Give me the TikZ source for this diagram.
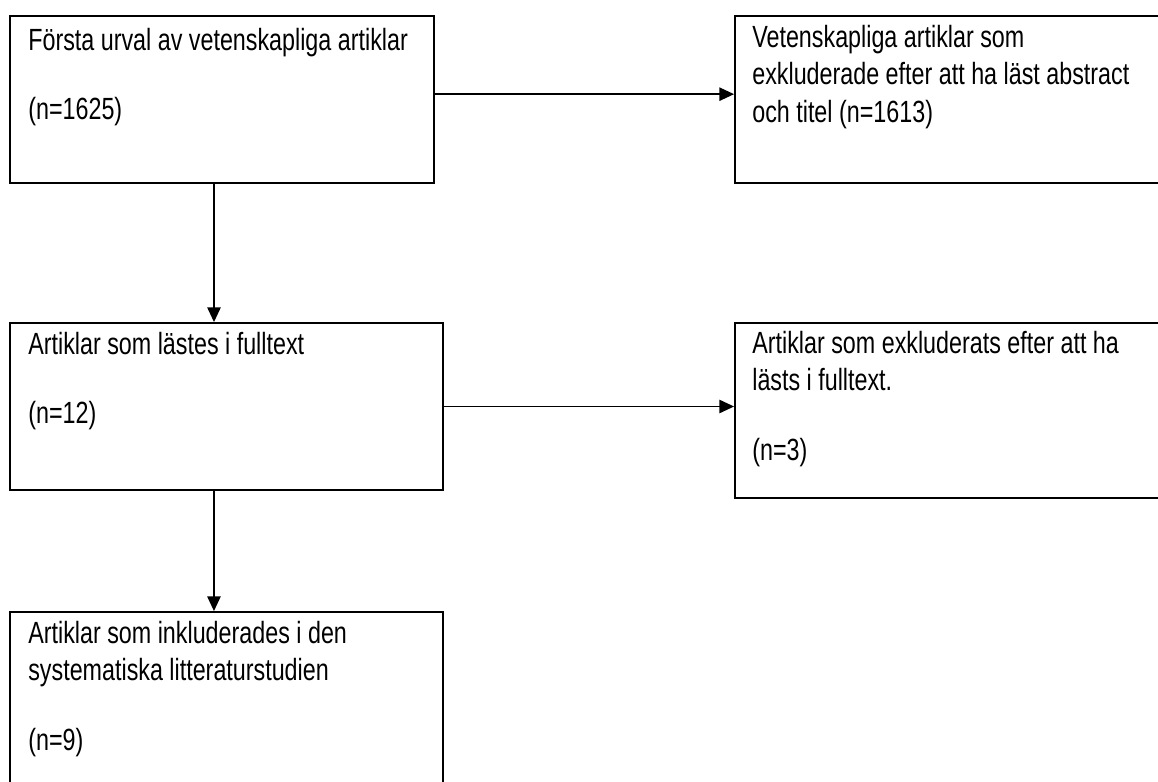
\documentclass[tikz,border=0pt]{standalone}
\usepackage{fontspec}
\setmainfont[FakeStretch=0.76]{Liberation Sans}
\usetikzlibrary{positioning,arrows.meta}
\tikzset{
    box/.style = {
        draw,
        shape=rectangle,
        line width=1.4pt,
        inner sep=0pt
    },
    txt/.style = {
        align=left,
        inner sep=0pt,
        anchor=north west,
        font=\fontsize{23}{28}\selectfont
    },
    arr/.style = {
        draw,
        line width=1.1pt,
        -{Triangle[length=11pt,width=10pt]}
    },
}
\begin{document}
\begin{tikzpicture}[x=0.75pt,y=-0.75pt]
    \useasboundingbox (0,0) rectangle (1158,782);

    \node[box, minimum width=318pt, minimum height=125.25pt] (first) at (222,99.5) {};
    \node[box, minimum width=322.5pt, minimum height=125.25pt] (excl1) at (950,99.5) {};
    \node[box, minimum width=324.75pt, minimum height=125.25pt] (fulltext) at (226.5,406.5) {};
    \node[box, minimum width=322.5pt, minimum height=131.25pt] (excl2) at (950,410.5) {};
    \node[box, minimum width=324.75pt, minimum height=141pt] (incl) at (226.5,706) {};

    \node[txt] (first-text) at ([shift={(19,13)}]first.north west)
        {Första urval av vetenskapliga artiklar\\[24pt] (n=1625)};
    \node[txt] (excl1-text) at ([shift={(18,10)}]excl1.north west)
        {Vetenskapliga artiklar som\\ exkluderade efter att ha läst abstract\\ och titel (n=1613)};
    \node[txt] (fulltext-text) at ([shift={(19,10)}]fulltext.north west)
        {Artiklar som lästes i fulltext\\[24pt] (n=12)};
    \node[txt] (excl2-text) at ([shift={(18,9)}]excl2.north west)
        {Artiklar som exkluderats efter att ha\\ lästs i fulltext.\\[24pt] (n=3)};
    \node[txt] (incl-text) at ([shift={(19,10)}]incl.north west)
        {Artiklar som inkluderades i den\\ systematiska litteraturstudien\\[24pt] (n=9)};

    \path[arr] ([yshift=4pt]first.east) -- ([yshift=4pt]first.east -| excl1.west);
    \path[arr] (fulltext.east) -- (fulltext.east -| excl2.west);
    \path[arr] ([xshift=-6pt]first.south) -- ([xshift=-6pt]first.south |- fulltext.north);
    \path[arr] ([xshift=-9.4pt]fulltext.south) -- ([xshift=-9.4pt]fulltext.south |- incl.north);
\end{tikzpicture}
\end{document}
